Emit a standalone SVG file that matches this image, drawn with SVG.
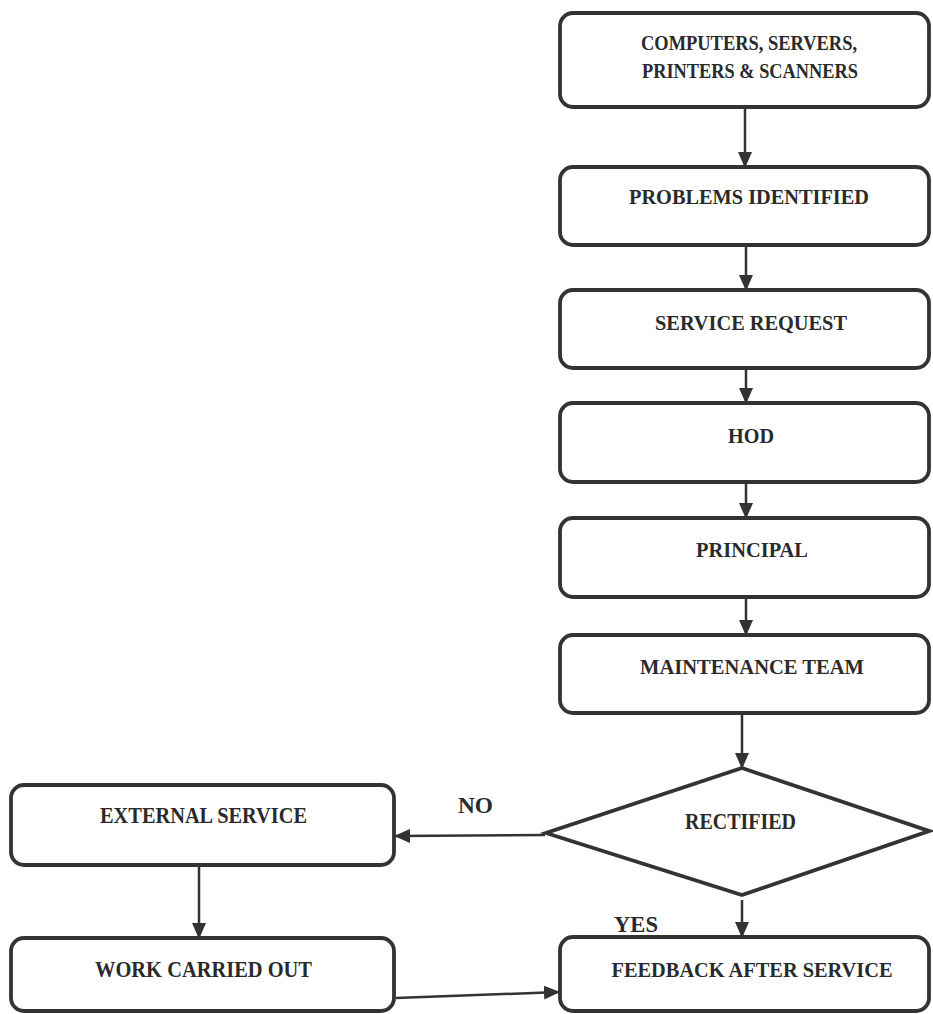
<svg xmlns="http://www.w3.org/2000/svg" width="933" height="1014" viewBox="0 0 933 1014">
<style>
.box{fill:#fff;stroke:#333;stroke-width:3.8}
.t{font-family:"Liberation Serif","Times New Roman",serif;font-weight:bold;font-size:22px;fill:#2a2a2a}
.b{font-size:24px}
.c{fill:none;stroke:#333;stroke-width:2.5}
</style>
<defs>
<marker id="ah" markerUnits="userSpaceOnUse" markerWidth="16" markerHeight="16" viewBox="0 0 16 16" refX="15" refY="8" orient="auto">
<path d="M0,1 L16,8 L0,15 Z" fill="#333"/>
</marker>
</defs>
<rect width="933" height="1014" fill="#fff"/>
<g id="connectors">
<line class="c" x1="745" y1="107" x2="745" y2="167" marker-end="url(#ah)"/>
<line class="c" x1="746" y1="245" x2="746" y2="290" marker-end="url(#ah)"/>
<line class="c" x1="746" y1="368" x2="746" y2="403" marker-end="url(#ah)"/>
<line class="c" x1="746" y1="482" x2="746" y2="518" marker-end="url(#ah)"/>
<line class="c" x1="746" y1="597" x2="746" y2="635" marker-end="url(#ah)"/>
<line class="c" x1="742" y1="713" x2="742" y2="768" marker-end="url(#ah)"/>
<line class="c" x1="545" y1="835" x2="395" y2="836" marker-end="url(#ah)"/>
<line class="c" x1="742" y1="900" x2="742" y2="937" marker-end="url(#ah)"/>
<line class="c" x1="199" y1="865" x2="199" y2="938" marker-end="url(#ah)"/>
<line class="c" x1="396" y1="998" x2="559" y2="992" marker-end="url(#ah)"/>
</g>
<g id="n1"><rect class="box" x="560" y="13" width="369" height="94" rx="13"/>
<text class="t" x="641" y="50" textLength="216" lengthAdjust="spacingAndGlyphs">COMPUTERS, SERVERS,</text>
<text class="t" x="642" y="78" textLength="216" lengthAdjust="spacingAndGlyphs">PRINTERS &amp; SCANNERS</text></g>
<g id="n2"><rect class="box" x="560" y="167" width="369" height="78" rx="13"/>
<text class="t" x="629" y="204" textLength="240" lengthAdjust="spacingAndGlyphs">PROBLEMS IDENTIFIED</text></g>
<g id="n3"><rect class="box" x="560" y="290" width="369" height="78" rx="13"/>
<text class="t" x="655" y="330" textLength="192" lengthAdjust="spacingAndGlyphs">SERVICE REQUEST</text></g>
<g id="n4"><rect class="box" x="560" y="403" width="369" height="79" rx="13"/>
<text class="t" x="728" y="443" textLength="46" lengthAdjust="spacingAndGlyphs">HOD</text></g>
<g id="n5"><rect class="box" x="560" y="518" width="369" height="79" rx="13"/>
<text class="t" x="696" y="557" textLength="112" lengthAdjust="spacingAndGlyphs">PRINCIPAL</text></g>
<g id="n6"><rect class="box" x="560" y="635" width="369" height="78" rx="13"/>
<text class="t" x="640" y="674" textLength="224" lengthAdjust="spacingAndGlyphs">MAINTENANCE TEAM</text></g>
<g id="n7"><polygon class="box" points="742,768 929,831 742,895 546,833"/>
<text class="t b" x="685" y="829" textLength="111" lengthAdjust="spacingAndGlyphs">RECTIFIED</text></g>
<g id="n8"><rect class="box" x="11" y="785" width="383" height="80" rx="13"/>
<text class="t b" x="100" y="823" textLength="207" lengthAdjust="spacingAndGlyphs">EXTERNAL SERVICE</text></g>
<g id="n9"><rect class="box" x="11" y="938" width="383" height="73" rx="13"/>
<text class="t b" x="95" y="977" textLength="217" lengthAdjust="spacingAndGlyphs">WORK CARRIED OUT</text></g>
<g id="n10"><rect class="box" x="560" y="937" width="369" height="74" rx="13"/>
<text class="t" x="752" y="977" text-anchor="middle" style="font-size:21px" textLength="281" lengthAdjust="spacingAndGlyphs">FEEDBACK AFTER SERVICE</text></g>
<g id="labels">
<text class="t b" x="458" y="813" textLength="35" lengthAdjust="spacingAndGlyphs">NO</text>
<text class="t b" x="614" y="932" textLength="44" lengthAdjust="spacingAndGlyphs">YES</text>
</g>
</svg>
